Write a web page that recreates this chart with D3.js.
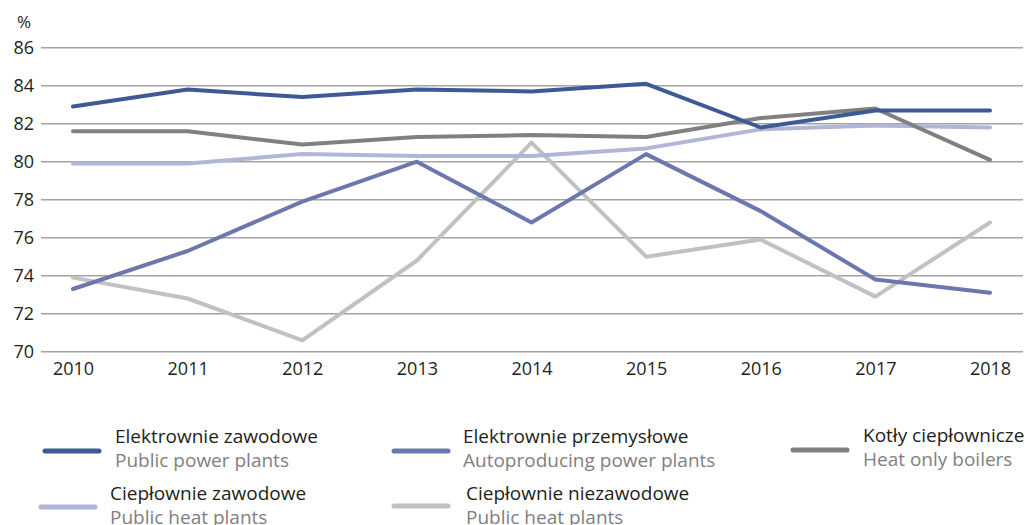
<!DOCTYPE html>
<html>
<head>
<meta charset="utf-8">
<script src="https://cdn.jsdelivr.net/npm/d3@7"></script>
<style>
  body { margin: 0; background: #fff; }
  svg text { font-family: "Open Sans", "Noto Sans", sans-serif; }
</style>
</head>
<body>
<script>
// years along the x axis
var years = [2010, 2011, 2012, 2013, 2014, 2015, 2016, 2017, 2018];
var yTicks = [70, 72, 74, 76, 78, 80, 82, 84, 86];

// series values (%)
var elektrownieZawodowe = [82.9, 83.8, 83.4, 83.8, 83.7, 84.1, 81.8, 82.7, 82.7];
var elektrowniePrzemyslowe = [73.3, 75.3, 77.9, 80.0, 76.8, 80.4, 77.4, 73.8, 73.1];
var kotlyCieplownicze = [81.6, 81.6, 80.9, 81.3, 81.4, 81.3, 82.3, 82.8, 80.1];
var cieplownieZawodowe = [79.9, 79.9, 80.4, 80.3, 80.3, 80.7, 81.7, 81.9, 81.8];
var cieplownieNiezawodowe = [73.9, 72.8, 70.6, 74.8, 81.0, 75.0, 75.9, 72.9, 76.8];

var seriesNames = ["Elektrownie zawodowe", "Elektrownie przemysłowe", "Kotły ciepłownicze",
                   "Ciepłownie zawodowe", "Ciepłownie niezawodowe"];
var seriesNamesEn = ["Public power plants", "Autoproducing power plants", "Heat only boilers",
                     "Public heat plants", "Public heat plants"];
var seriesColors = ["#3d5a97", "#6b77ad", "#808081", "#b1b5d7", "#c1c1c3"];

var series = [
  {name: seriesNames[0], en: seriesNamesEn[0], color: seriesColors[0], values: elektrownieZawodowe},
  {name: seriesNames[1], en: seriesNamesEn[1], color: seriesColors[1], values: elektrowniePrzemyslowe},
  {name: seriesNames[2], en: seriesNamesEn[2], color: seriesColors[2], values: kotlyCieplownicze},
  {name: seriesNames[3], en: seriesNamesEn[3], color: seriesColors[3], values: cieplownieZawodowe},
  {name: seriesNames[4], en: seriesNamesEn[4], color: seriesColors[4], values: cieplownieNiezawodowe}
];

var width = 1029;
var height = 525;

var svg = d3.select("body").append("svg")
    .attr("width", width)
    .attr("height", height);

// scales
var x = d3.scalePoint()
    .domain(years)
    .range([73, 990]);

var y = d3.scaleLinear()
    .domain([70, 86])
    .range([351.7, 47.7]);

// horizontal gridlines
svg.append("g")
    .selectAll("line")
    .data(yTicks)
    .enter().append("line")
      .attr("x1", 41)
      .attr("x2", 1023)
      .attr("y1", function(d){ return y(d); })
      .attr("y2", function(d){ return y(d); })
      .attr("stroke", "#a3a3a3")
      .attr("stroke-width", 1.5);

// y axis labels
var yAxis = d3.axisLeft(y).tickValues(yTicks).tickSize(0).tickPadding(0);
svg.append("g")
    .attr("transform", "translate(34,0)")
    .call(yAxis)
    .call(function(g){ g.select(".domain").remove(); })
    .selectAll("text")
      .attr("font-size", 18)
      .attr("fill", "#231f20")
      .style("font-family", "Open Sans");

// x axis labels
var xAxis = d3.axisBottom(x).tickSize(0).tickPadding(0);
svg.append("g")
    .attr("transform", "translate(0,362)")
    .call(xAxis)
    .call(function(g){ g.select(".domain").remove(); })
    .selectAll("text")
      .attr("font-size", 18)
      .attr("fill", "#231f20")
      .style("font-family", "Open Sans");

svg.append("text")
    .attr("x", 24)
    .attr("y", 28)
    .attr("text-anchor", "middle")
    .attr("font-size", 17)
    .attr("fill", "#231f20")
    .text("%");

// lines
var line = d3.line()
    .x(function(d, i){ return x(years[i]); })
    .y(function(d){ return y(d); });

var drawOrder = [4, 1, 3, 2, 0];
svg.append("g")
    .selectAll("path")
    .data(drawOrder.map(function(i){ return series[i]; }))
    .enter().append("path")
      .attr("d", function(d){ return line(d.values); })
      .attr("fill", "none")
      .attr("stroke", function(d){ return d.color; })
      .attr("stroke-width", 4)
      .attr("stroke-linejoin", "round")
      .attr("stroke-linecap", "round");

// legend
var legendPos = [
  {sx: 45, sy: 451, tx: 115, ty: 443},
  {sx: 394, sy: 451, tx: 463, ty: 443},
  {sx: 793, sy: 450, tx: 863, ty: 442},
  {sx: 41, sy: 507, tx: 110, ty: 500},
  {sx: 394, sy: 506, tx: 466, ty: 500}
];

var legend = svg.append("g")
    .selectAll("g")
    .data(series)
    .enter().append("g");

legend.append("line")
    .attr("x1", function(d, i){ return legendPos[i].sx; })
    .attr("x2", function(d, i){ return legendPos[i].sx + 54; })
    .attr("y1", function(d, i){ return legendPos[i].sy; })
    .attr("y2", function(d, i){ return legendPos[i].sy; })
    .attr("stroke", function(d){ return d.color; })
    .attr("stroke-width", 5)
    .attr("stroke-linecap", "round");

legend.append("text")
    .attr("x", function(d, i){ return legendPos[i].tx; })
    .attr("y", function(d, i){ return legendPos[i].ty; })
    .attr("font-size", 19)
    .attr("fill", "#231f20")
    .text(function(d){ return d.name; });

legend.append("text")
    .attr("x", function(d, i){ return legendPos[i].tx; })
    .attr("y", function(d, i){ return legendPos[i].ty + 24; })
    .attr("font-size", 19)
    .attr("fill", "#7f7f80")
    .text(function(d){ return d.en; });
</script>
</body>
</html>
